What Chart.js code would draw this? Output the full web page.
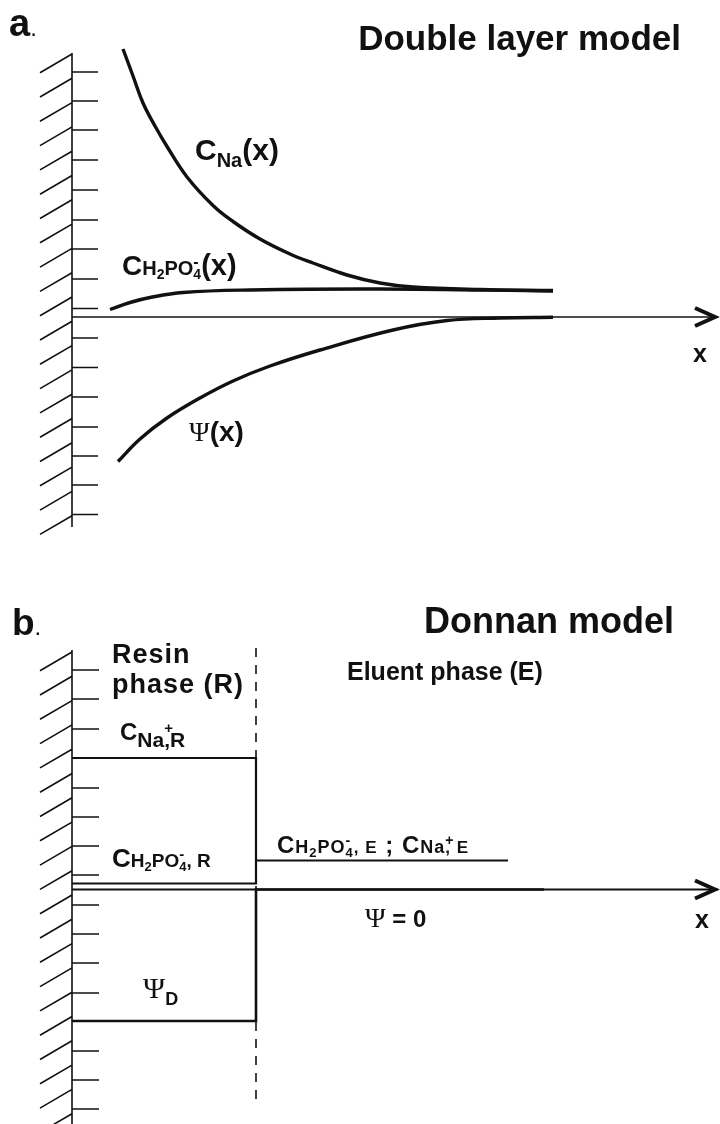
<!DOCTYPE html>
<html>
<head>
<meta charset="utf-8">
<title>Double layer model / Donnan model</title>
<script src="https://cdn.jsdelivr.net/npm/chart.js@4.4.1/dist/chart.umd.min.js"></script>
<style>
  body { margin: 0; background: #fff; }
  .panel { width: 720px; height: 562px; }
  canvas { display: block; }
</style>
</head>
<body>
<div class="panel"><canvas id="layerChart" width="720" height="562"></canvas></div>
<div class="panel"><canvas id="donnanChart" width="720" height="562"></canvas></div>
<script>
// x = distance from the resin wall, y = level (0 on the x axis), both in the same arbitrary units

// a. double layer model
const naX = [5.1, 6.1, 7.1, 8.3, 9.5, 11.5, 14.1, 16.1, 18.8, 21.8, 24.1, 27.5, 30.8, 34.1, 40.8, 48.1];
const naY = [26.8, 24.1, 21.4, 19.1, 17.05, 14.0, 11.15, 9.55, 7.8, 6.3, 5.4, 4.2, 3.4, 3.0, 2.75, 2.65];
const phosX = [3.8, 5.8, 7.8, 11.1, 17.8, 30.8, 48.1];
const phosY = [0.75, 1.45, 1.95, 2.45, 2.7, 2.8, 2.6];
const psiX = [4.6, 6.8, 9.5, 12.8, 16.1, 19.8, 24.8, 32.1, 37.5, 42.8, 48.1];
const psiY = [-14.45, -12.2, -10.1, -8.1, -6.4, -4.9, -3.3, -1.3, -0.35, -0.1, -0.03];
const layerTicks = [24.5, 21.6, 18.7, 15.7, 12.7, 9.7, 6.8, 3.8, 0.85, -2.1, -5.05, -8.0, -11.0, -13.9, -16.8, -19.75];

// b. Donnan model
const boundaryX = 18.4;
const eluentEndX = 43.6;
const psiEndX = 47.2;
const naResin = 13.15;
const phosResin = 0.6;
const eluentLevel = 2.9;
const psiDonnan = -13.15;
const donnanTicks = [21.95, 19.05, 16.05, 13.15, 10.15, 7.25, 4.35, 1.45, -1.55, -4.45, -7.35, -10.35, -13.15, -16.15, -19.05, -21.95];

const axisEndX = 64.6;
const HATCH_STEP = 2.43;
const INK = '#111';
const SANS = '"Liberation Sans", Arial, sans-serif';
const SERIF = '"Liberation Serif", "DejaVu Serif", serif';

const pts = (xs, ys) => xs.map((x, i) => ({ x: x, y: ys[i] }));

function line(data, width, extra) {
  return Object.assign({
    data: data,
    borderColor: INK,
    borderWidth: width,
    pointRadius: 0,
    fill: false,
    tension: 0
  }, extra || {});
}

// draws a label made of pieces of different size / offset (sub- and superscripts)
function drawRich(ctx, x, y, parts, align) {
  const fontOf = p => `${p.w || 'bold'} ${p.s}px ${p.f || SANS}`;
  let cx = x;
  if (align === 'right') {
    let w = 0;
    parts.forEach(p => { ctx.font = fontOf(p); if (!p.stay) w += ctx.measureText(p.t).width; });
    cx = x - w;
  }
  parts.forEach(p => {
    ctx.font = fontOf(p);
    ctx.letterSpacing = (p.ls || 0) + 'px';
    ctx.fillText(p.t, cx, y + (p.dy || 0));
    if (!p.stay) cx += ctx.measureText(p.t).width;
  });
  ctx.letterSpacing = '0px';
}

function decor(cfg) {
  return {
    id: 'decor',
    afterDatasetsDraw(chart) {
      const ctx = chart.ctx;
      const xs = chart.scales.x;
      const ys = chart.scales.y;
      const wx = xs.getPixelForValue(0);
      ctx.save();
      ctx.strokeStyle = INK;
      ctx.fillStyle = INK;

      // resin wall with its hatching and ticks
      ctx.lineWidth = 1.6;
      ctx.beginPath();
      ctx.moveTo(wx, ys.getPixelForValue(cfg.wallTop));
      ctx.lineTo(wx, ys.getPixelForValue(cfg.wallBottom));
      cfg.ticks.forEach(t => {
        const py = ys.getPixelForValue(t);
        ctx.moveTo(wx, py);
        ctx.lineTo(xs.getPixelForValue(cfg.tickLen), py);
      });
      for (let h = cfg.hatchTop; h > cfg.wallBottom - 0.5; h -= HATCH_STEP) {
        const py = ys.getPixelForValue(h);
        ctx.moveTo(wx, py);
        ctx.lineTo(wx - 32, py + 18.7);
      }
      ctx.stroke();

      // arrow head of the x axis
      const ax = xs.getPixelForValue(axisEndX) - 3;
      const ay = ys.getPixelForValue(0);
      ctx.lineWidth = 4;
      ctx.lineJoin = 'miter';
      ctx.beginPath();
      ctx.moveTo(ax - 20, ay - 9);
      ctx.lineTo(ax, ay);
      ctx.lineTo(ax - 20, ay + 9);
      ctx.stroke();

      ctx.textBaseline = 'alphabetic';
      cfg.labels.forEach(l => {
        drawRich(ctx, xs.getPixelForValue(l.x), ys.getPixelForValue(l.y), l.parts);
      });
      cfg.fixed.forEach(l => drawRich(ctx, l.px, l.py, l.parts, l.align));
      ctx.restore();
    }
  };
}

function baseOptions(yMin, yMax) {
  return {
    responsive: false,
    animation: false,
    layout: { padding: 0 },
    plugins: { legend: { display: false }, tooltip: { enabled: false } },
    scales: {
      x: { type: 'linear', display: false, min: -7.2, max: 64.8 },
      y: { type: 'linear', display: false, min: yMin, max: yMax }
    }
  };
}

new Chart(document.getElementById('layerChart'), {
  type: 'line',
  data: {
    datasets: [
      line(pts([0, axisEndX], [0, 0]), 1.6),
      line(pts(naX, naY), 3.4, { tension: 0.4 }),
      line(pts(phosX, phosY), 3.4, { tension: 0.4 }),
      line(pts(psiX, psiY), 3.4, { tension: 0.4 })
    ]
  },
  options: baseOptions(-24.5, 31.7),
  plugins: [decor({
    wallTop: 26.4, wallBottom: -21.0, hatchTop: 26.3, tickLen: 2.6,
    ticks: layerTicks,
    labels: [
      { x: 12.3, y: 15.7, parts: [{ t: 'C', s: 30 }, { t: 'Na', s: 20, dy: 7 }, { t: '(x)', s: 30 }] },
      { x: 5.0, y: 4.2, parts: [
        { t: 'C', s: 28 }, { t: 'H', s: 20 }, { t: '2', s: 14, dy: 4 }, { t: 'PO', s: 20 },
        { t: '-', s: 16, dy: -8, stay: true }, { t: '4', s: 14, dy: 4 }, { t: '(x)', s: 29 }] },
      { x: 11.7, y: -12.4, parts: [{ t: 'Ψ', s: 28, f: SERIF, w: 'normal' }, { t: '(x)', s: 28 }] },
      { x: 62.1, y: -4.5, parts: [{ t: 'x', s: 25 }] }
    ],
    fixed: [
      { px: 9, py: 36, parts: [{ t: 'a', s: 38 }, { t: '.', s: 24, w: 'normal' }] },
      { px: 681, py: 50, align: 'right', parts: [{ t: 'Double layer model', s: 35 }] }
    ]
  })]
});

new Chart(document.getElementById('donnanChart'), {
  type: 'line',
  data: {
    datasets: [
      line(pts([0, axisEndX], [0, 0]), 2.2),
      line(pts([0, boundaryX, boundaryX, 0], [naResin, naResin, phosResin, phosResin]), 2.2),
      line(pts([boundaryX, eluentEndX], [eluentLevel, eluentLevel]), 2.2),
      line(pts([0, boundaryX, boundaryX, psiEndX], [psiDonnan, psiDonnan, 0, 0]), 2.6),
      line(pts([boundaryX, boundaryX], [24.15, -21.75]), 1.6, { borderDash: [9, 8] })
    ]
  },
  options: baseOptions(-23.45, 32.75),
  plugins: [decor({
    wallTop: 23.95, wallBottom: -23.45, hatchTop: 23.75, tickLen: 2.7,
    ticks: donnanTicks,
    labels: [
      { x: 4.0, y: 22.65, parts: [{ t: 'Resin', s: 27, ls: 1 }] },
      { x: 4.0, y: 19.7, parts: [{ t: 'phase (R)', s: 27, ls: 1 }] },
      { x: 27.5, y: 20.95, parts: [{ t: 'Eluent phase (E)', s: 25 }] },
      { x: 4.8, y: 14.95, parts: [
        { t: 'C', s: 24 }, { t: 'Na', s: 21, dy: 7 }, { t: '+', s: 15, dy: -7, stay: true }, { t: ',R', s: 21, dy: 7 }] },
      { x: 4.0, y: 2.25, parts: [
        { t: 'C', s: 26 }, { t: 'H', s: 19 }, { t: '2', s: 13, dy: 4 }, { t: 'PO', s: 19 },
        { t: '-', s: 15, dy: -8, stay: true }, { t: '4', s: 13, dy: 4 }, { t: ', R', s: 19 }] },
      { x: 20.5, y: 3.65, parts: [
        { t: 'C', s: 24, ls: 1 }, { t: 'H', s: 18, ls: 1 }, { t: '2', s: 13, dy: 4, ls: 1 }, { t: 'PO', s: 18, ls: 1 },
        { t: '-', s: 14, dy: -8, stay: true }, { t: '4', s: 13, dy: 4, ls: 1 }, { t: ', E', s: 17, ls: 1 },
        { t: ' ; ', s: 24, ls: 1 }, { t: 'C', s: 24, ls: 1 }, { t: 'Na', s: 18, ls: 1 },
        { t: '+', s: 14, dy: -8, stay: true }, { t: ', E', s: 17, ls: 1 }] },
      { x: 29.3, y: -3.75, parts: [{ t: 'Ψ', s: 28, f: SERIF, w: 'normal' }, { t: ' = 0', s: 24 }] },
      { x: 7.1, y: -10.85, parts: [{ t: 'Ψ', s: 30, f: SERIF, w: 'normal' }, { t: 'D', s: 18, dy: 7 }] },
      { x: 62.3, y: -3.85, parts: [{ t: 'x', s: 25 }] }
    ],
    fixed: [
      { px: 12, py: 73, parts: [{ t: 'b', s: 37 }, { t: '.', s: 24, w: 'normal' }] },
      { px: 674, py: 71, align: 'right', parts: [{ t: 'Donnan model', s: 36 }] }
    ]
  })]
});
</script>
</body>
</html>
